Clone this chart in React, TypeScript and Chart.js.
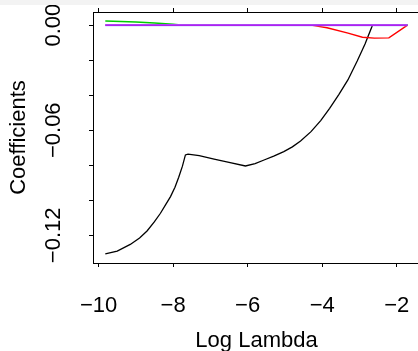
import React, { useEffect, useRef } from 'react';
import { Chart, registerables } from 'chart.js';

Chart.register(...registerables);

// ---- data ----
const xTickValues = [-10, -8, -6, -4, -2];
const yTickValues = [0, -0.02, -0.04, -0.06, -0.08, -0.1, -0.12];
const yLabelledTicks = ['0.00', '−0.06', '−0.12'];

const blackLogLambda = [
  -9.82, -9.5, -9.15, -8.9, -8.7, -8.5, -8.34, -8.2, -8.07, -7.95, -7.85, -7.75, -7.67,
  -7.6, -7.3, -6.9, -6.5, -6.06, -5.8, -5.56, -5.3, -5.03, -4.8, -4.58, -4.3, -4.04,
  -3.8, -3.55, -3.31, -3.06, -2.85, -2.65, -1.7,
];
const blackCoef = [
  -0.1306, -0.129, -0.1252, -0.1215, -0.1175, -0.1122, -0.1074, -0.1025, -0.0979, -0.0925,
  -0.0868, -0.0805, -0.0741, -0.0737, -0.0745, -0.0765, -0.0784, -0.0804, -0.079, -0.077,
  -0.0748, -0.0722, -0.0695, -0.0661, -0.0608, -0.0545, -0.0475, -0.0395, -0.0313, -0.0205,
  -0.0108, 0, 0,
];

const redLogLambda = [-9.82, -4.3, -3.87, -3.33, -2.92, -2.6, -2.21, -1.71];
const redCoef = [0, 0, -0.0015, -0.0044, -0.0069, -0.0074, -0.0073, 0];

const greenLogLambda = [-9.82, -9.4, -9.0, -8.5, -8.0, -7.72, -1.71];
const greenCoef = [0.0024, 0.0021, 0.0018, 0.0012, 0.0005, 0, 0];

const blueLogLambda = [-9.82, -1.71];
const blueCoef = [0, 0];

const purpleLogLambda = [-9.82, -1.71];
const purpleCoef = [0, 0];

const xMin = -10.15;
const xMax = -1.375;
const yMin = -0.1358;
const yMax = 0.0075;

const FONT = 'Liberation Sans, Arial, Helvetica, sans-serif';

function pts(xs: number[], ys: number[]) {
  return xs.map((x, i) => ({ x, y: ys[i] }));
}

function fmtX(v: number): string {
  return v < 0 ? '\u2212' + Math.abs(v) : String(v);
}

function fmtY(v: number): string {
  const idx = [0, -0.06, -0.12].findIndex((t) => Math.abs(t - v) < 1e-9);
  return idx >= 0 ? yLabelledTicks[idx] : '';
}

function noPad(s: any) {
  s.paddingTop = 0;
  s.paddingBottom = 0;
  s.paddingLeft = 0;
  s.paddingRight = 0;
}

export default function App() {
  const ref = useRef<HTMLCanvasElement | null>(null);

  useEffect(() => {
    if (!ref.current) return;
    const tickGrid = {
      drawOnChartArea: false,
      drawTicks: true,
      tickLength: 4,
      color: '#000',
      lineWidth: 1,
    };
    const border = { display: true, color: '#000', width: 1 };
    const font = { family: FONT, size: 22 };

    // dataset 0 is drawn on top in Chart.js (R draws the last series on top)
    const chart = new Chart(ref.current, {
      type: 'line',
      data: {
        datasets: [
          { data: pts(purpleLogLambda, purpleCoef), borderColor: '#b020f0', borderWidth: 1.6 },
          { data: pts(blueLogLambda, blueCoef), borderColor: '#9fb4ff', borderWidth: 2.4 },
          { data: pts(greenLogLambda, greenCoef), borderColor: '#00cd00', borderWidth: 1.4 },
          { data: pts(redLogLambda, redCoef), borderColor: '#ff0000', borderWidth: 1.4 },
          { data: pts(blackLogLambda, blackCoef), borderColor: '#000000', borderWidth: 1.3 },
        ].map((d) => ({ ...d, xAxisID: 'x', yAxisID: 'y', pointRadius: 0, tension: 0, fill: false })),
      },
      options: {
        responsive: false,
        animation: false,
        layout: { padding: { left: 0, right: 10, top: 0, bottom: 0 } },
        plugins: { legend: { display: false }, tooltip: { enabled: false } },
        scales: {
          x: {
            type: 'linear',
            position: 'bottom',
            min: xMin,
            max: xMax,
            afterBuildTicks: (s: any) => {
              s.ticks = xTickValues.map((v) => ({ value: v }));
            },
            afterFit: (s: any) => {
              s.height = 88;
              noPad(s);
            },
            grid: tickGrid,
            border,
            ticks: {
              font,
              color: '#000',
              padding: 26,
              maxRotation: 0,
              autoSkip: false,
              callback: (v: any) => fmtX(Number(v)),
            },
            title: { display: true, text: 'Log Lambda', font, color: '#000', padding: { top: 0, bottom: -3 } },
          },
          x2: {
            type: 'linear',
            position: 'top',
            min: xMin,
            max: xMax,
            afterBuildTicks: (s: any) => {
              s.ticks = xTickValues.map((v) => ({ value: v }));
            },
            afterFit: (s: any) => {
              s.height = 12;
              noPad(s);
            },
            grid: tickGrid,
            border,
            ticks: { display: false },
          },
          y: {
            type: 'linear',
            position: 'left',
            min: yMin,
            max: yMax,
            afterBuildTicks: (s: any) => {
              s.ticks = yTickValues.map((v) => ({ value: v }));
            },
            afterFit: (s: any) => {
              s.width = 93;
              noPad(s);
            },
            grid: tickGrid,
            border,
            ticks: {
              font,
              color: '#000',
              padding: 7,
              minRotation: 90,
              maxRotation: 90,
              crossAlign: 'center',
              autoSkip: false,
              callback: (v: any) => fmtY(Number(v)),
            },
            title: { display: true, text: 'Coefficients', font, color: '#000', padding: { top: 6, bottom: 0 } },
          },
        },
      },
    } as any);
    return () => chart.destroy();
  }, []);

  return (
    <div
      style={{
        position: 'absolute',
        left: 0,
        top: 0,
        width: 418,
        height: 351,
        overflow: 'hidden',
        background: '#ffffff',
      }}
    >
      <canvas ref={ref} width={430} height={351} style={{ display: 'block' }} />
      <div
        style={{
          position: 'absolute',
          left: 0,
          top: 0,
          width: 418,
          height: 5,
          background: '#f3f3f3',
        }}
      />
    </div>
  );
}
